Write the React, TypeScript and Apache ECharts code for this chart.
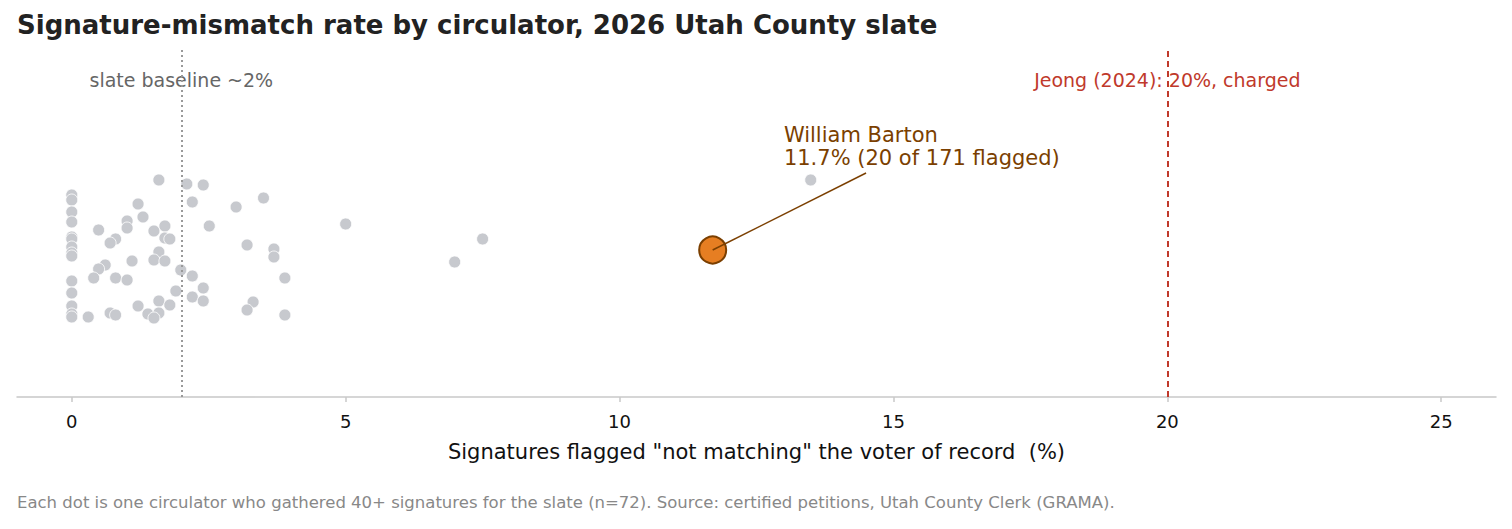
import { useEffect, useRef } from 'react';
import * as echarts from 'echarts';

// mismatch rate (%) per circulator, and the vertical jitter used to spread them out
const rates = [
  0, 0, 0, 0, 0, 0, 0, 0, 0, 0, 0, 0, 0, 0,
  1.59, 2.1, 2.4, 3.5, 2.2, 1.21, 3.0, 1.3, 1.01, 1.01, 0.49, 2.51, 1.5, 1.7,
  1.7, 1.79, 0.8, 0.7, 3.2, 3.69, 3.69, 1.59, 1.1, 1.5, 1.7, 0.61, 0.49, 1.99,
  0.4, 0.8, 1.01, 2.2, 3.89, 1.9, 2.4, 2.2, 2.4, 1.59, 1.21, 1.79, 3.31, 3.2,
  0.3, 0.7, 0.8, 1.39, 1.59, 1.5, 3.89, 5.0, 7.5, 6.99, 13.49,
];
const jitter = [
  0.55, 0.5, 0.38, 0.28, 0.13, 0.11, 0.03, -0.03, -0.06, -0.31, -0.43, -0.56, -0.64, -0.67,
  0.7, 0.66, 0.65, 0.52, 0.48, 0.46, 0.43, 0.33, 0.29, 0.22, 0.2, 0.24, 0.19, 0.24,
  0.12, 0.11, 0.11, 0.07, 0.05, 0.01, -0.07, -0.02, -0.11, -0.1, -0.11, -0.15, -0.19, -0.2,
  -0.28, -0.28, -0.3, -0.26, -0.28, -0.41, -0.38, -0.47, -0.51, -0.51, -0.56, -0.55, -0.52, -0.6,
  -0.67, -0.63, -0.65, -0.64, -0.63, -0.68, -0.65, 0.26, 0.11, -0.12, 0.7,
];

const highlightName = 'William Barton';
const highlightRate = 11.7;
const highlightNote = '11.7% (20 of 171 flagged)';

const baselineRate = 2;
const chargedRate = 20;

const xTicks = [0, 5, 10, 15, 20, 25];

const FONT = '"DejaVu Sans", sans-serif';

export default function App() {
  const ref = useRef<HTMLDivElement | null>(null);

  useEffect(() => {
    document.body.style.margin = '0';
    if (!ref.current) return;
    const chart = echarts.init(ref.current, undefined, { renderer: 'svg' });

    chart.setOption({
      animation: false,
      textStyle: { fontFamily: FONT },
      grid: { left: 17, right: 16, top: 50, bottom: 132 },
      xAxis: {
        type: 'value',
        min: -1,
        max: 26,
        splitLine: { show: false },
        axisLine: { onZero: false, lineStyle: { color: '#c8c8c8', width: 1.5 } },
        axisTick: {
          show: true,
          length: 5,
          customValues: xTicks,
          lineStyle: { color: '#c8c8c8', width: 1.5 },
        },
        axisLabel: {
          fontSize: 18,
          color: '#111',
          margin: 15,
          fontFamily: FONT,
          customValues: xTicks,
        },
        name: 'Signatures flagged "not matching" the voter of record  (%)',
        nameLocation: 'middle',
        nameGap: 44,
        nameTextStyle: { fontSize: 21, color: '#111', fontFamily: FONT },
      },
      yAxis: {
        type: 'value',
        min: -1.47,
        max: 2.0,
        show: false,
      },
      series: [
        {
          type: 'line',
          data: [],
          silent: true,
          z: 1,
          markLine: {
            symbol: 'none',
            silent: true,
            label: { show: false },
            data: [
              { xAxis: baselineRate, lineStyle: { color: '#999', type: [2, 3], width: 2 } },
              { xAxis: chargedRate, lineStyle: { color: '#c0392b', type: [6, 4], width: 2 } },
              [
                { coord: [highlightRate, 0], lineStyle: { color: '#7b3f00', type: 'solid', width: 1.5 } },
                { coord: [14.5, 0.77] },
              ],
            ],
          },
        },
        {
          type: 'scatter',
          z: 2,
          symbolSize: 12,
          itemStyle: { color: '#c7c9ce', borderColor: '#fff', borderWidth: 0.8, opacity: 1 },
          data: rates.map((r, i) => [r, jitter[i]]),
        },
        {
          type: 'scatter',
          z: 3,
          symbolSize: 27,
          itemStyle: { color: '#e67e22', borderColor: '#7b3f00', borderWidth: 2, opacity: 1 },
          data: [[highlightRate, 0]],
        },
      ],
    });

    const p = (x: number, y: number) => chart.convertToPixel({ xAxisIndex: 0, yAxisIndex: 0 }, [x, y]);
    const base = p(baselineRate, 1.7);
    const charged = p(chargedRate, 1.7);
    const note = p(13.0, 1.27);

    chart.setOption({
      graphic: [
        {
          type: 'text',
          left: 17,
          top: 12,
          style: {
            text: 'Signature-mismatch rate by circulator, 2026 Utah County slate',
            fontSize: 26,
            fontWeight: 'bold',
            fill: '#222',
            fontFamily: FONT,
          },
        },
        {
          type: 'text',
          x: base[0],
          y: base[1],
          style: {
            text: 'slate baseline ~2%',
            fontSize: 19,
            fill: '#666',
            align: 'center',
            verticalAlign: 'middle',
            fontFamily: FONT,
          },
        },
        {
          type: 'text',
          x: charged[0],
          y: charged[1],
          style: {
            text: 'Jeong (2024): 20%, charged',
            fontSize: 19,
            fill: '#c0392b',
            align: 'center',
            verticalAlign: 'middle',
            fontFamily: FONT,
          },
        },
        {
          type: 'text',
          x: note[0],
          y: note[1],
          style: {
            text: highlightName + '\n' + highlightNote,
            fontSize: 21,
            lineHeight: 23,
            fill: '#7b3f00',
            align: 'left',
            verticalAlign: 'top',
            fontFamily: FONT,
          },
        },
        {
          type: 'text',
          left: 17,
          top: 494,
          style: {
            text: 'Each dot is one circulator who gathered 40+ signatures for the slate (n=72). Source: certified petitions, Utah County Clerk (GRAMA).',
            fontSize: 16.5,
            fill: '#888',
            fontFamily: FONT,
          },
        },
      ],
    });

    const handleResize = () => chart.resize();
    window.addEventListener('resize', handleResize);
    return () => {
      window.removeEventListener('resize', handleResize);
      chart.dispose();
    };
  }, []);

  return <div ref={ref} style={{ width: 1512, height: 529 }} />;
}
